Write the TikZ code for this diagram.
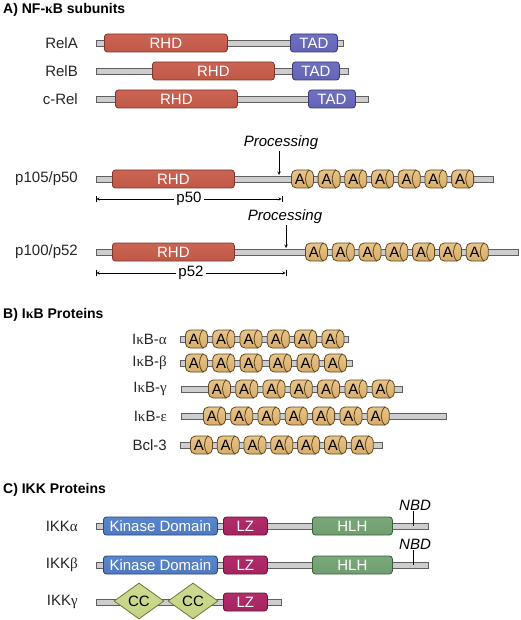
\documentclass[tikz,border=0pt]{standalone}
\usepackage{fontspec}
\setmainfont{Liberation Sans}
\newfontfamily\greekfont{Liberation Serif}
\usepackage{tikz}
\usetikzlibrary{arrows,shapes,positioning}
\usepackage{xcolor}
\definecolor{bbgray}{RGB}{205,205,208}
\definecolor{bbdark}{RGB}{95,95,95}
\definecolor{rhdtop}{RGB}{204,100,84}
\definecolor{rhdmid}{RGB}{240,158,138}
\definecolor{rhdbot}{RGB}{192,88,72}
\definecolor{rhdedge}{RGB}{125,52,42}
\definecolor{tadtop}{RGB}{112,112,192}
\definecolor{tadmid}{RGB}{158,158,226}
\definecolor{tadbot}{RGB}{100,100,180}
\definecolor{tadedge}{RGB}{58,58,118}
\definecolor{kintop}{RGB}{88,134,204}
\definecolor{kinmid}{RGB}{140,180,236}
\definecolor{kinbot}{RGB}{80,122,192}
\definecolor{kinedge}{RGB}{44,70,120}
\definecolor{lztop}{RGB}{178,44,106}
\definecolor{lzmid}{RGB}{224,110,160}
\definecolor{lzbot}{RGB}{164,36,96}
\definecolor{lzedge}{RGB}{98,24,58}
\definecolor{hlhtop}{RGB}{122,168,122}
\definecolor{hlhmid}{RGB}{170,204,165}
\definecolor{hlhbot}{RGB}{112,158,112}
\definecolor{hlhedge}{RGB}{58,94,58}
\definecolor{anktop}{RGB}{232,196,136}
\definecolor{ankmid}{RGB}{252,234,194}
\definecolor{ankbot}{RGB}{214,172,108}
\definecolor{ankedge}{RGB}{98,72,28}
\definecolor{cctop}{RGB}{204,218,144}
\definecolor{ccmid}{RGB}{232,240,184}
\definecolor{ccbot}{RGB}{196,212,132}
\definecolor{ccedge}{RGB}{108,118,58}
\tikzstyle{secttitle} = [anchor=west, inner sep=0pt, font=\fontsize{14}{16}\selectfont\bfseries]
\tikzstyle{protname} = [anchor=east, inner sep=0pt, font=\fontsize{15}{17}\selectfont, text=black!85]
\tikzstyle{backbone} = [rectangle, anchor=west, draw=bbdark, fill=bbgray, minimum height=6pt, inner sep=0pt, line width=0.7pt]
\tikzstyle{protdom} = [rectangle, anchor=west, rounded corners=3pt, minimum height=18pt, inner sep=0pt, text=white, font=\fontsize{15}{15}\selectfont, line width=0.8pt]
\tikzstyle{rhd} = [protdom, draw=rhdedge, top color=rhdtop, middle color=rhdmid, bottom color=rhdbot]
\tikzstyle{tad} = [protdom, draw=tadedge, top color=tadtop, middle color=tadmid, bottom color=tadbot]
\tikzstyle{kinase} = [protdom, draw=kinedge, top color=kintop, middle color=kinmid, bottom color=kinbot]
\tikzstyle{lz} = [protdom, draw=lzedge, top color=lztop, middle color=lzmid, bottom color=lzbot]
\tikzstyle{hlh} = [protdom, draw=hlhedge, top color=hlhtop, middle color=hlhmid, bottom color=hlhbot]
\tikzstyle{ankyrin} = [rectangle, anchor=west, rounded corners=5pt, minimum width=22pt, minimum height=18pt, inner sep=0pt, draw=ankedge, top color=anktop, middle color=ankmid, bottom color=ankbot, line width=0.8pt, font=\fontsize{15}{15}\selectfont]
\tikzstyle{cc} = [diamond, minimum width=50pt, minimum height=36pt, inner sep=0pt, draw=ccedge, top color=cctop, middle color=ccmid, bottom color=ccbot, line width=0.8pt, font=\fontsize{15}{15}\selectfont]
\tikzstyle{note} = [inner sep=1pt, font=\fontsize{15}{15}\selectfont\itshape]
\tikzstyle{procarrow} = [->, >=stealth, semithick]
\tikzstyle{dimline} = [|<->|, >=stealth, thin]
\tikzstyle{nbdtick} = [thin]
\newcommand{\ankrep}[3]{%
  \node[ankyrin] (#1) at (#2,#3) {A\kern5pt};
  \draw[ankedge, line width=0.8pt] ([xshift=-4.5pt]#1.north east) to[bend right=45] ([xshift=-4.5pt]#1.south east);
}
\newcommand{\gk}[1]{{\greekfont #1}}

\begin{document}
\begin{tikzpicture}[x=1pt, y=-1pt]
\useasboundingbox (0,0) rectangle (520,620);

% A) NF-kB subunits
\node[secttitle] (titleA) at (3,10) {A) NF-\gk{κ}B subunits};

\node[protname] (relA-lab) at (78,43) {RelA};
\node[backbone, minimum width=247pt] (relA) at (96,43) {};
\node[rhd, minimum width=123pt] (relA-rhd) at (104,43) {RHD};
\node[tad, minimum width=47pt] (relA-tad) at (290,43) {TAD};

\node[protname] (relB-lab) at (78,71) {RelB};
\node[backbone, minimum width=252pt] (relB) at (96,71) {};
\node[rhd, minimum width=122pt] (relB-rhd) at (152,71) {RHD};
\node[tad, minimum width=47pt] (relB-tad) at (292,71) {TAD};

\node[protname] (crel-lab) at (78,99) {c-Rel};
\node[backbone, minimum width=272pt] (crel) at (96,99) {};
\node[rhd, minimum width=122pt] (crel-rhd) at (115,99) {RHD};
\node[tad, minimum width=47pt] (crel-tad) at (308,99) {TAD};

% precursors
\node[protname] (p105-lab) at (78,179) {p105/p50};
\node[backbone, minimum width=397pt] (p105) at (96,179) {};
\node[rhd, minimum width=122pt] (p105-rhd) at (112,179) {RHD};
\foreach \i in {0,...,6} {\ankrep{p105a\i}{291+26.7*\i}{179}}
\node[note] (proc50) at (281,143) {Processing};
\coordinate (cut50) at (279,175);
\draw[procarrow] (proc50.south -| cut50) -- (cut50);
\coordinate (p50l) at (96,199);
\coordinate (p50r) at (282,199);
\draw[dimline] (p50l) -- node[fill=white, inner sep=2pt, font=\fontsize{15}{15}\selectfont] {p50} (p50r);

\node[protname] (p100-lab) at (78,252) {p100/p52};
\node[backbone, minimum width=422pt] (p100) at (96,252) {};
\node[rhd, minimum width=122pt] (p100-rhd) at (112,252) {RHD};
\foreach \i in {0,...,6} {\ankrep{p100a\i}{305+26.8*\i}{252}}
\node[note] (proc52) at (285,217) {Processing};
\coordinate (cut52) at (286,248);
\draw[procarrow] (proc52.south -| cut52) -- (cut52);
\coordinate (p52l) at (96,273);
\coordinate (p52r) at (286,273);
\draw[dimline] (p52l) -- node[fill=white, inner sep=2pt, font=\fontsize{15}{15}\selectfont] {p52} (p52r);

% B) IkB proteins
\node[secttitle] (titleB) at (3,315) {B) I\gk{κ}B Proteins};

\node[protname] (iba-lab) at (167,339) {I\gk{κ}B-\gk{α}};
\node[backbone, minimum width=168pt] (iba) at (180,339) {};
\foreach \i in {0,...,5} {\ankrep{iba\i}{185+27.3*\i}{339}}

\node[protname] (ibb-lab) at (167,363) {I\gk{κ}B-\gk{β}};
\node[backbone, minimum width=172pt] (ibb) at (180,363) {};
\foreach [count=\i] \xa in {185,212.3,239.7,269,296.7,324} {\ankrep{ibb\i}{\xa}{363}}

\node[protname] (ibg-lab) at (167,389) {I\gk{κ}B-\gk{γ}};
\node[backbone, minimum width=221pt] (ibg) at (181,389) {};
\foreach \i in {0,...,6} {\ankrep{ibg\i}{208+27.3*\i}{389}}

\node[protname] (ibe-lab) at (167,416) {I\gk{κ}B-\gk{ε}};
\node[backbone, minimum width=265pt] (ibe) at (181,416) {};
\foreach \i in {0,...,6} {\ankrep{ibe\i}{203+27.3*\i}{416}}

\node[protname] (bcl-lab) at (167,445) {Bcl-3};
\node[backbone, minimum width=202pt] (bcl) at (180,445) {};
\foreach \i in {0,...,6} {\ankrep{bcl\i}{190+26.8*\i}{445}}

% C) IKK proteins
\node[secttitle] (titleC) at (3,490) {C) IKK Proteins};

\node[protname] (ikka-lab) at (78,526) {IKK\gk{α}};
\node[backbone, minimum width=332pt] (ikka) at (96,526) {};
\node[kinase, minimum width=114pt] (ikka-kin) at (103,526) {Kinase Domain};
\node[lz, minimum width=44pt] (ikka-lz) at (223,526) {LZ};
\node[hlh, minimum width=80pt] (ikka-hlh) at (312,526) {HLH};
\node[note] (nbda) at (415,505) {NBD};
\coordinate (nbda-pt) at (413,526);
\draw[nbdtick] (nbda.south -| nbda-pt) -- (nbda-pt);

\node[protname] (ikkb-lab) at (78,565) {IKK\gk{β}};
\node[backbone, minimum width=332pt] (ikkb) at (96,565) {};
\node[kinase, minimum width=114pt] (ikkb-kin) at (103,565) {Kinase Domain};
\node[lz, minimum width=44pt] (ikkb-lz) at (223,565) {LZ};
\node[hlh, minimum width=80pt] (ikkb-hlh) at (312,565) {HLH};
\node[note] (nbdb) at (415,544) {NBD};
\coordinate (nbdb-pt) at (413,565);
\draw[nbdtick] (nbdb.south -| nbdb-pt) -- (nbdb-pt);

\node[protname] (ikkg-lab) at (78,602) {IKK\gk{γ}};
\node[backbone, minimum width=185pt] (ikkg) at (96,602) {};
\node[cc] (ikkg-cc1) at (139,601) {CC};
\node[cc] (ikkg-cc2) at (193,601) {CC};
\node[lz, minimum width=44pt] (ikkg-lz) at (223,602) {LZ};
\end{tikzpicture}
\end{document}
